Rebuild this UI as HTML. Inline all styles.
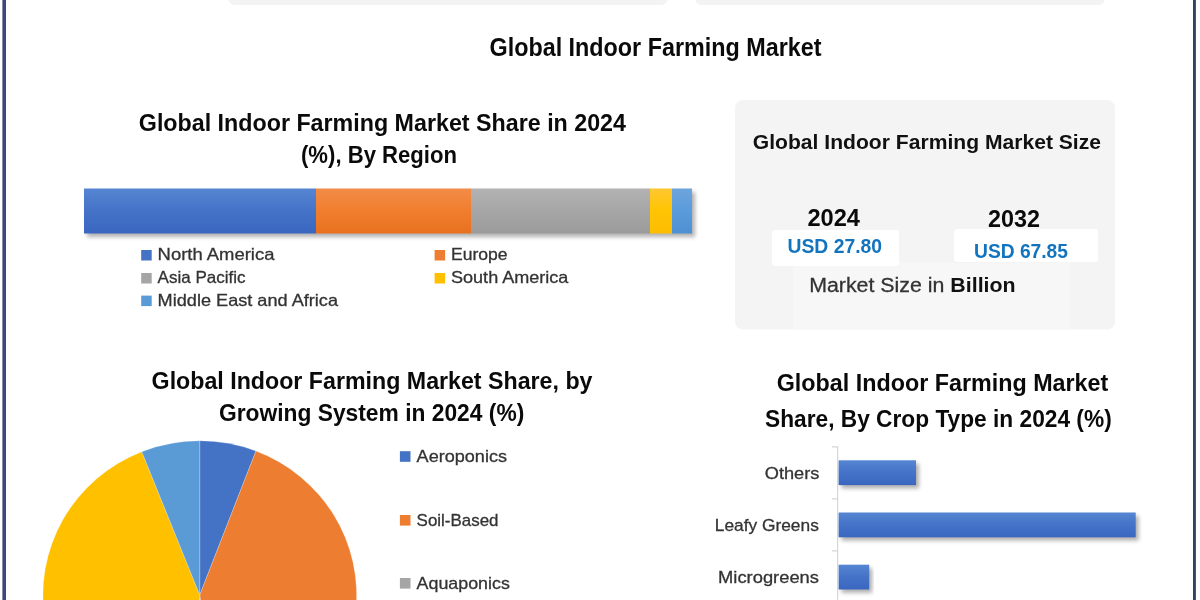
<!DOCTYPE html>
<html lang="en"><head><meta charset="utf-8"><title>Global Indoor Farming Market</title>
<style>
html,body{margin:0;padding:0;background:#fff;}
body{width:1200px;height:600px;overflow:hidden;font-family:"Liberation Sans",sans-serif;}
svg{display:block;font-family:"Liberation Sans",sans-serif;}
</style></head><body>
<svg width="1200" height="600" viewBox="0 0 1200 600">
<defs>
<linearGradient id="gb" x1="0" y1="0" x2="0" y2="1"><stop offset="0" stop-color="#5686d2"/><stop offset="0.45" stop-color="#4674c9"/><stop offset="1" stop-color="#3a66c0"/></linearGradient>
<linearGradient id="go" x1="0" y1="0" x2="0" y2="1"><stop offset="0" stop-color="#f28c49"/><stop offset="0.45" stop-color="#f17f30"/><stop offset="1" stop-color="#e8711f"/></linearGradient>
<linearGradient id="gg" x1="0" y1="0" x2="0" y2="1"><stop offset="0" stop-color="#b3b3b3"/><stop offset="0.45" stop-color="#a7a7a7"/><stop offset="1" stop-color="#9b9b9b"/></linearGradient>
<linearGradient id="gy" x1="0" y1="0" x2="0" y2="1"><stop offset="0" stop-color="#ffc732"/><stop offset="0.45" stop-color="#ffc505"/><stop offset="1" stop-color="#fdbc00"/></linearGradient>
<linearGradient id="gl" x1="0" y1="0" x2="0" y2="1"><stop offset="0" stop-color="#6ea5dc"/><stop offset="0.45" stop-color="#5b9cdc"/><stop offset="1" stop-color="#4f90d2"/></linearGradient>
<filter id="sh" x="-5%" y="-40%" width="110%" height="200%"><feGaussianBlur stdDeviation="2.3"/></filter>
</defs>
<rect width="1200" height="600" fill="#fff"/>

<rect x="2.4" y="0" width="3.6" height="600" fill="#3c497f"/>
<rect x="1193" y="0" width="2.9" height="600" fill="#2f4560"/>
<rect x="228" y="-20" width="440" height="25" rx="7" fill="#f3f3f3"/>
<rect x="695" y="-20" width="410" height="25" rx="7" fill="#f3f3f3"/>
<text x="489.5" y="56.2" font-size="24.85" font-weight="700" fill="#0a0a0a" textLength="332.0" lengthAdjust="spacingAndGlyphs">Global Indoor Farming Market</text>
<text x="138.8" y="131.0" font-size="24.71" font-weight="700" fill="#0a0a0a" textLength="487.2" lengthAdjust="spacingAndGlyphs">Global Indoor Farming Market Share in 2024</text>
<text x="301.0" y="163.0" font-size="24.71" font-weight="700" fill="#0a0a0a" textLength="156.0" lengthAdjust="spacingAndGlyphs">(%), By Region</text>
<rect x="87" y="192" width="608" height="45" fill="#000" opacity="0.3" filter="url(#sh)"/>
<rect x="84" y="188.5" width="232" height="45" fill="url(#gb)"/>
<rect x="316" y="188.5" width="155" height="45" fill="url(#go)"/>
<rect x="471" y="188.5" width="179" height="45" fill="url(#gg)"/>
<rect x="650" y="188.5" width="22" height="45" fill="url(#gy)"/>
<rect x="672" y="188.5" width="20" height="45" fill="url(#gl)"/>
<rect x="141.2" y="250" width="10.5" height="10.5" fill="#4472c4"/>
<text x="157.6" y="260.4" font-size="16.72" font-weight="400" fill="#333" textLength="116.8" lengthAdjust="spacingAndGlyphs" stroke="#333" stroke-width="0.3">North America</text>
<rect x="141.2" y="273" width="10.5" height="10.5" fill="#a5a5a5"/>
<text x="157.6" y="283.0" font-size="16.72" font-weight="400" fill="#333" textLength="88.0" lengthAdjust="spacingAndGlyphs" stroke="#333" stroke-width="0.3">Asia Pacific</text>
<rect x="141.2" y="295.6" width="10.5" height="10.5" fill="#5b9bd5"/>
<text x="157.6" y="305.8" font-size="16.72" font-weight="400" fill="#333" textLength="180.4" lengthAdjust="spacingAndGlyphs" stroke="#333" stroke-width="0.3">Middle East and Africa</text>
<rect x="434.6" y="250" width="10.5" height="10.5" fill="#ed7d31"/>
<text x="451.0" y="260.4" font-size="16.72" font-weight="400" fill="#333" textLength="56.6" lengthAdjust="spacingAndGlyphs" stroke="#333" stroke-width="0.3">Europe</text>
<rect x="434.6" y="273" width="10.5" height="10.5" fill="#ffc000"/>
<text x="451.0" y="283.0" font-size="16.72" font-weight="400" fill="#333" textLength="117.4" lengthAdjust="spacingAndGlyphs" stroke="#333" stroke-width="0.3">South America</text>
<rect x="735" y="100" width="380" height="229.5" rx="8" fill="#f4f4f4"/>
<rect x="793" y="263" width="277" height="66" fill="#f7f7f7"/>
<rect x="772" y="230" width="127" height="36" rx="3" fill="#fff"/>
<rect x="954" y="229" width="144" height="33" rx="3" fill="#fff"/>
<text x="752.8" y="149.0" font-size="20.20" font-weight="700" fill="#111" textLength="348.2" lengthAdjust="spacingAndGlyphs">Global Indoor Farming Market Size</text>
<text x="807.4" y="225.5" font-size="23.69" font-weight="700" fill="#0a0a0a" textLength="52.6" lengthAdjust="spacingAndGlyphs">2024</text>
<text x="988.0" y="227.2" font-size="23.69" font-weight="700" fill="#0a0a0a" textLength="52.0" lengthAdjust="spacingAndGlyphs">2032</text>
<text x="787.5" y="252.5" font-size="19.48" font-weight="700" fill="#1274bf" textLength="94.5" lengthAdjust="spacingAndGlyphs">USD 27.80</text>
<text x="974.0" y="257.6" font-size="19.48" font-weight="700" fill="#1274bf" textLength="94.0" lengthAdjust="spacingAndGlyphs">USD 67.85</text>
<text x="809.2" y="292.2" font-size="20.35" fill="#333" stroke="#333" stroke-width="0.3" textLength="206.4" lengthAdjust="spacingAndGlyphs">Market Size in <tspan font-weight="700" fill="#111" stroke="none">Billion</tspan></text>
<text x="151.6" y="388.6" font-size="24.56" font-weight="700" fill="#0a0a0a" textLength="440.9" lengthAdjust="spacingAndGlyphs">Global Indoor Farming Market Share, by</text>
<text x="218.9" y="420.5" font-size="24.56" font-weight="700" fill="#0a0a0a" textLength="305.4" lengthAdjust="spacingAndGlyphs">Growing System in 2024 (%)</text>
<path d="M199.75,595 L199.75,440.80 A156.8,154.2 0 0 1 255.94,451.04 Z" fill="#4472c4" stroke="#fff" stroke-opacity="0.3" stroke-width="0.7"/>
<path d="M199.75,595 L255.94,451.04 A156.8,154.2 0 0 1 221.57,747.70 Z" fill="#ed7d31" stroke="#fff" stroke-opacity="0.3" stroke-width="0.7"/>
<path d="M199.75,595 L221.57,747.70 A156.8,154.2 0 0 1 194.28,749.11 Z" fill="#a5a5a5" stroke="#fff" stroke-opacity="0.3" stroke-width="0.7"/>
<path d="M199.75,595 L194.28,749.11 A156.8,154.2 0 0 1 141.77,451.73 Z" fill="#ffc000" stroke="#fff" stroke-opacity="0.3" stroke-width="0.7"/>
<path d="M199.75,595 L141.77,451.73 A156.8,154.2 0 0 1 199.75,440.80 Z" fill="#5b9bd5" stroke="#fff" stroke-opacity="0.3" stroke-width="0.7"/>
<rect x="399.9" y="451.2" width="10.6" height="10.6" fill="#4472c4"/>
<text x="416.6" y="461.6" font-size="17.01" font-weight="400" fill="#333" textLength="90.4" lengthAdjust="spacingAndGlyphs" stroke="#333" stroke-width="0.3">Aeroponics</text>
<rect x="399.9" y="515" width="10.6" height="10.6" fill="#ed7d31"/>
<text x="416.6" y="525.6" font-size="17.01" font-weight="400" fill="#333" textLength="81.9" lengthAdjust="spacingAndGlyphs" stroke="#333" stroke-width="0.3">Soil-Based</text>
<rect x="399.9" y="578" width="10.6" height="10.6" fill="#a5a5a5"/>
<text x="416.6" y="588.6" font-size="17.01" font-weight="400" fill="#333" textLength="93.2" lengthAdjust="spacingAndGlyphs" stroke="#333" stroke-width="0.3">Aquaponics</text>
<text x="776.7" y="390.8" font-size="24.42" font-weight="700" fill="#0a0a0a" textLength="331.6" lengthAdjust="spacingAndGlyphs">Global Indoor Farming Market</text>
<text x="765.0" y="426.8" font-size="24.42" font-weight="700" fill="#0a0a0a" textLength="346.7" lengthAdjust="spacingAndGlyphs">Share, By Crop Type in 2024 (%)</text>
<path d="M837.6,446.3 V600 M832,446.9 H837.6 M832,498.8 H837.6 M832,550.9 H837.6" stroke="#d6d6d6" stroke-width="1.2" fill="none"/>
<rect x="841.5" y="463.8" width="77.4" height="24.5" fill="#000" opacity="0.32" filter="url(#sh)"/>
<rect x="838.6" y="460.3" width="77.4" height="24.8" fill="url(#gb)"/>
<rect x="841.5" y="516.0" width="297.1" height="24.5" fill="#000" opacity="0.32" filter="url(#sh)"/>
<rect x="838.6" y="512.5" width="297.1" height="24.8" fill="url(#gb)"/>
<rect x="841.5" y="568.2" width="30.6" height="24.5" fill="#000" opacity="0.32" filter="url(#sh)"/>
<rect x="838.6" y="564.7" width="30.6" height="24.8" fill="url(#gb)"/>
<text x="764.8" y="478.8" font-size="16.86" font-weight="400" fill="#333" textLength="54.6" lengthAdjust="spacingAndGlyphs" stroke="#333" stroke-width="0.3">Others</text>
<text x="714.8" y="531.0" font-size="16.86" font-weight="400" fill="#333" textLength="104.0" lengthAdjust="spacingAndGlyphs" stroke="#333" stroke-width="0.3">Leafy Greens</text>
<text x="718.1" y="582.8" font-size="16.86" font-weight="400" fill="#333" textLength="100.9" lengthAdjust="spacingAndGlyphs" stroke="#333" stroke-width="0.3">Microgreens</text>
</svg></body></html>
